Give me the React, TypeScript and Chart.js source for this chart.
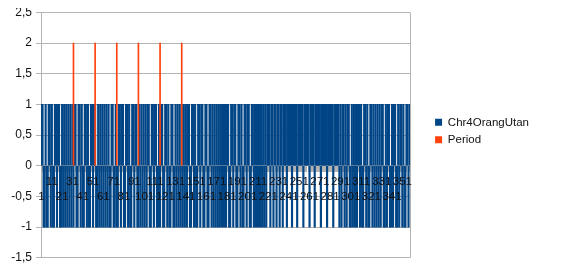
import React, { useEffect, useRef } from "react";
import { Chart, registerables } from "chart.js";

Chart.register(...registerables);

// ---- data ----
const categories: string[] = Array.from({ length: 358 }, (_, i) => String(i + 1));

const chr4Values: number[] = [
  1, 1, -1, -1, 1, -1, -1, 1, 1, -1,
  1, -1, -1, 1, 1, -1, 1, 1, -1, -1,
  1, -1, 1, -1, 1, -1, 1, -1, 1, -1,
  1, -1, 1, 1, -1, -1, 1, 1, -1, 1,
  -1, -1, 1, 1, -1, 1, -1, -1, 1, 1,
  -1, 1, 1, -1, -1, 1, -1, 1, -1, 1,
  -1, 1, -1, 1, -1, 1, -1, -1, 1, 1,
  -1, -1, 1, -1, -1, 1, 1, -1, 1, 1,
  -1, -1, 1, 1, -1, 1, -1, -1, 1, 1,
  -1, 1, 1, -1, -1, 1, -1, 1, -1, 1,
  -1, 1, -1, 1, 1, -1, -1, 1, 1, -1,
  1, 1, -1, -1, 1, -1, 1, 1, -1, -1,
  1, 1, -1, 1, -1, -1, 1, 1, -1, -1,
  1, -1, 1, -1, 1, -1, 1, -1, 1, -1,
  1, -1, 1, 1, -1, -1, 1, 1, -1, 1,
  -1, -1, 1, 1, -1, 1, 1, -1, -1, 1,
  1, -1, -1, 1, 1, -1, 1, -1, 1, -1,
  1, -1, 1, -1, 1, -1, 1, -1, 1, -1,
  1, 1, -1, -1, 1, 1, -1, 1, 1, -1,
  -1, 1, 1, -1, 1, -1, -1, 1, 1, -1,
  1, 1, -1, -1, 1, 1, -1, 1, -1, 1,
  -1, 1, -1, 1, -1, 1, -1, 1, -1, 1,
  1, 1, -1, 1, 1, -1, 1, 1, -1, 1,
  1, -1, 1, 1, -1, 1, 1, 1, -1, 1,
  1, 1, 1, -1, 1, 1, 1, 1, -1, 1,
  1, 1, 1, 1, -1, 1, 1, 1, 1, 1,
  -1, 1, 1, 1, 1, -1, 1, 1, 1, 1,
  1, -1, 1, 1, 1, 1, 1, -1, 1, 1,
  1, 1, 1, -1, 1, 1, 1, 1, 1, -1,
  1, -1, 1, 1, -1, 1, -1, 1, 1, -1,
  -1, 1, -1, 1, -1, 1, -1, 1, 1, -1,
  1, -1, -1, 1, 1, -1, 1, -1, -1, 1,
  1, -1, 1, -1, 1, -1, 1, -1, 1, -1,
  1, 1, -1, -1, 1, -1, 1, 1, -1, -1,
  1, -1, 1, 1, -1, -1, 1, -1, 1, 1,
  -1, 1, -1, -1, 1, 1, -1, 1,
];

const periodCategories: number[] = [32, 53, 74, 95, 116, 137];
const periodValue = 2;

const seriesNames: string[] = ["Chr4OrangUtan", "Period"];
const seriesColors: string[] = ["#004586", "#ff420e"];

const yMin = -1.5;
const yMax = 2.5;
const yStep = 0.5;
const xLabelEvery = 10;

// ---- layout constants ----
const FONT = "'Liberation Sans', Arial, sans-serif";
const GRID = "#b3b3b3";
const LEGEND_DX = 19;
const LEGEND_DY = -4;
const Y_AXIS_WIDTH = 32;

const fmt = (v: number) => String(v).replace(".", ",");

export default function App() {
  const ref = useRef<HTMLCanvasElement | null>(null);

  useEffect(() => {
    if (!ref.current) return;
    const periodData = categories.map((_, i) =>
      periodCategories.includes(i + 1) ? periodValue : null
    );

    const rightBorder = {
      id: "rightBorder",
      beforeDatasetsDraw(chart: any) {
        const { ctx, chartArea } = chart;
        ctx.save();
        ctx.strokeStyle = GRID;
        ctx.lineWidth = 1;
        ctx.beginPath();
        const x = Math.round(chartArea.right) + 0.5;
        ctx.moveTo(x, chartArea.top);
        ctx.lineTo(x, chartArea.bottom);
        ctx.stroke();
        ctx.restore();
      },
    };

    const legendShift = {
      id: "legendShift",
      afterLayout(chart: any) {
        const lg = chart.legend;
        if (!lg) return;
        lg.left += LEGEND_DX;
        lg.right += LEGEND_DX;
        lg.top += LEGEND_DY;
        lg.bottom += LEGEND_DY;
      },
    };

    const chart = new Chart(ref.current, {
      type: "bar",
      data: {
        labels: categories,
        datasets: [
          {
            label: seriesNames[0],
            data: chr4Values,
            backgroundColor: seriesColors[0],
            borderWidth: 0,
            barThickness: 1.5,
            grouped: false,
            order: 2,
          },
          {
            label: seriesNames[1],
            data: periodData,
            backgroundColor: seriesColors[1],
            borderWidth: 0,
            barThickness: 1,
            grouped: false,
            order: 1,
          },
        ],
      } as any,
      options: {
        animation: false,
        responsive: false,
        devicePixelRatio: 1,
        events: [],
        layout: { padding: { left: 8, top: 11.5, right: 45, bottom: 18.3 } },
        plugins: {
          tooltip: { enabled: false },
          legend: {
            position: "right",
            align: "center",
            labels: {
              boxWidth: 7,
              boxHeight: 7,
              padding: 6,
              color: "#111",
              font: { family: FONT, size: 11.5 },
              sort: (a: any, b: any) => a.datasetIndex - b.datasetIndex,
            },
          },
        },
        scales: {
          x: {
            type: "category",
            position: { y: 0 } as any,
            offset: true,
            grid: {
              display: true,
              drawOnChartArea: false,
              drawTicks: true,
              tickLength: 6,
              color: GRID,
              offset: true,
            },
            border: { display: false },
            ticks: {
              autoSkip: false,
              maxRotation: 0,
              minRotation: 0,
              padding: 3,
              z: 1,
              color: "#111",
              font: { family: FONT, size: 11.5, lineHeight: 1.3 },
              callback: (_v: any, idx: number) => {
                if (idx % xLabelEvery !== 0) return "";
                const lab = categories[idx];
                return (idx / xLabelEvery) % 2 === 0 ? ["", lab] : [lab];
              },
            },
          },
          y: {
            min: yMin,
            max: yMax,
            afterFit: (scale: any) => {
              scale.width = Y_AXIS_WIDTH;
            },
            grid: { color: GRID, tickLength: 5 },
            border: { display: true, color: GRID },
            ticks: {
              stepSize: yStep,
              padding: 4,
              color: "#111",
              font: { family: FONT, size: 12 },
              callback: (v: any) => fmt(Number(v)),
            },
          },
        },
      },
      plugins: [rightBorder, legendShift],
    } as any);

    return () => chart.destroy();
  }, []);

  return (
    <div
      style={{
        width: 566,
        height: 277,
        boxSizing: "border-box",
        border: "1px solid #000",
        background: "#fff",
        margin: -8,
      }}
    >
      <canvas ref={ref} width={564} height={275} style={{ display: "block" }} />
    </div>
  );
}
